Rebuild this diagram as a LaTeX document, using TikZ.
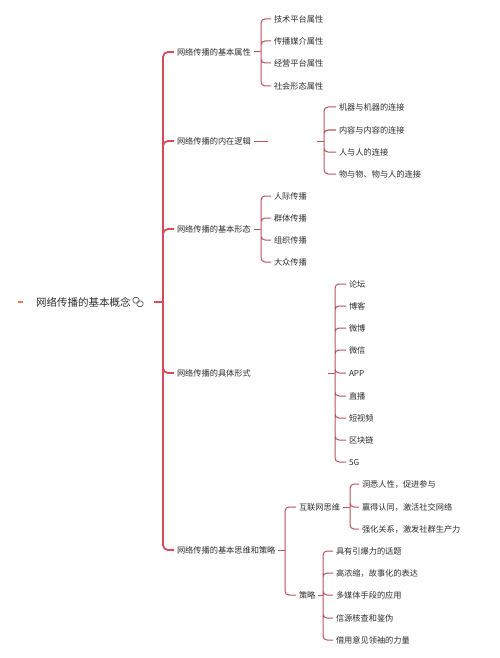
\documentclass[tikz,border=0pt]{standalone}
\usepackage{fontspec}
\setmainfont{Noto Sans CJK SC}
\usetikzlibrary{positioning}
\definecolor{mapRed}{RGB}{212,76,88}
\definecolor{mapRose}{RGB}{184,84,94}
\definecolor{mapInk}{RGB}{45,45,45}
\definecolor{mapMark}{RGB}{232,128,92}
\definecolor{mapGray}{RGB}{90,90,90}
\tikzset{
  topic/.style={anchor=west,inner sep=0pt,outer sep=3pt,text=mapInk,font=\fontsize{8.2}{9}\selectfont},
  rootnode/.style={topic,font=\fontsize{10.5}{11}\selectfont},
  trunk/.style={draw=mapRed,line width=1.8pt,rounded corners=5pt},
  twig/.style={draw=mapRose,line width=1pt,rounded corners=4pt},
}

\begin{document}
\begin{tikzpicture}[x=1pt,y=-1pt]
\path[use as bounding box,fill=white] (0,0) rectangle (500,658);

% root
\draw[mapMark,line width=1.2pt] (18,302) -- (23,302);
\node[rootnode] (root) at (33,302) {网络传播的基本概念};
\draw[mapGray,line width=0.8pt,rounded corners=1.6pt] (133,297.5) rectangle (139,303);
\draw[mapGray,line width=0.8pt,rounded corners=1.6pt] (137,301) rectangle (143,306.5);
\coordinate (rootT) at (154,302);
\coordinate (rootJ) at (163,302);

% first level
\node[topic] (attr) at (174,52) {网络传播的基本属性};
\node[topic] (logic) at (174,141) {网络传播的内在逻辑};
\node[topic] (form) at (174,229) {网络传播的基本形态};
\node[topic] (kind) at (174,373) {网络传播的具体形式};
\node[topic] (strat) at (174,550) {网络传播的基本思维和策略};

\draw[trunk] (rootT) -- (rootJ);
\draw[trunk] (rootJ) |- (attr.west) (rootJ) |- (logic.west) (rootJ) |- (form.west)
  (rootJ) |- (kind.west) (rootJ) |- (strat.west);

% 基本属性
\node[topic] (attr1) at (271,19) {技术平台属性};
\node[topic] (attr2) at (271,41) {传播媒介属性};
\node[topic] (attr3) at (271,63) {经营平台属性};
\node[topic] (attr4) at (271,86) {社会形态属性};
\coordinate (jA) at (261,52);
\draw[twig] (attr.east) -- (jA);
\draw[twig] (jA) |- (attr1.west) (jA) |- (attr2.west) (jA) |- (attr3.west) (jA) |- (attr4.west);

% 内在逻辑
\node[topic] (logic1) at (336,107) {机器与机器的连接};
\node[topic] (logic2) at (336,130) {内容与内容的连接};
\node[topic] (logic3) at (336,152) {人与人的连接};
\node[topic] (logic4) at (336,174) {物与物、物与人的连接};
\coordinate (bT) at (268,141);
\coordinate (bS) at (317,141);
\coordinate (jB) at (324,141);
\draw[twig] (logic.east) -- (bT) (bS) -- (jB);
\draw[twig] (jB) |- (logic1.west) (jB) |- (logic2.west) (jB) |- (logic3.west) (jB) |- (logic4.west);

% 基本形态
\node[topic] (form1) at (271,196) {人际传播};
\node[topic] (form2) at (271,218) {群体传播};
\node[topic] (form3) at (271,240) {组织传播};
\node[topic] (form4) at (271,262) {大众传播};
\coordinate (jC) at (261,229);
\draw[twig] (form.east) -- (jC);
\draw[twig] (jC) |- (form1.west) (jC) |- (form2.west) (jC) |- (form3.west) (jC) |- (form4.west);

% 具体形式
\node[topic] (kind1) at (346,284) {论坛};
\node[topic] (kind2) at (346,306) {博客};
\node[topic] (kind3) at (346,328) {微博};
\node[topic] (kind4) at (346,350) {微信};
\node[topic] (kind5) at (346,373) {APP};
\node[topic] (kind6) at (346,396) {直播};
\node[topic] (kind7) at (346,418) {短视频};
\node[topic] (kind8) at (346,440) {区块链};
\node[topic] (kind9) at (346,462) {5G};
\coordinate (dS) at (328,373);
\coordinate (jD) at (335,373);
\draw[twig] (dS) -- (jD);
\draw[twig] (jD) |- (kind1.west) (jD) |- (kind2.west) (jD) |- (kind3.west) (jD) |- (kind4.west)
  (jD) |- (kind5.west) (jD) |- (kind6.west) (jD) |- (kind7.west) (jD) |- (kind8.west) (jD) |- (kind9.west);

% 基本思维和策略
\node[topic] (think) at (296,507) {互联网思维};
\node[topic] (plan) at (296,595) {策略};
\coordinate (jE) at (285,550);
\draw[twig] (strat.east) -- (jE);
\draw[twig] (jE) |- (think.west) (jE) |- (plan.west);

\node[topic] (think1) at (359,484) {洞悉人性，促进参与};
\node[topic] (think2) at (359,507) {赢得认同，激活社交网络};
\node[topic] (think3) at (359,529) {强化关系，激发社群生产力};
\coordinate (jF) at (350,507);
\draw[twig] (think.east) -- (jF);
\draw[twig] (jF) |- (think1.west) (jF) |- (think2.west) (jF) |- (think3.west);

\node[topic] (plan1) at (333,551) {具有引爆力的话题};
\node[topic] (plan2) at (333,573) {高浓缩，故事化的表达};
\node[topic] (plan3) at (333,595) {多媒体手段的应用};
\node[topic] (plan4) at (333,618) {信源核查和鉴伪};
\node[topic] (plan5) at (333,640) {借用意见领袖的力量};
\coordinate (jG) at (323,595);
\draw[twig] (plan.east) -- (jG);
\draw[twig] (jG) |- (plan1.west) (jG) |- (plan2.west) (jG) |- (plan3.west) (jG) |- (plan4.west) (jG) |- (plan5.west);
\end{tikzpicture}
\end{document}
